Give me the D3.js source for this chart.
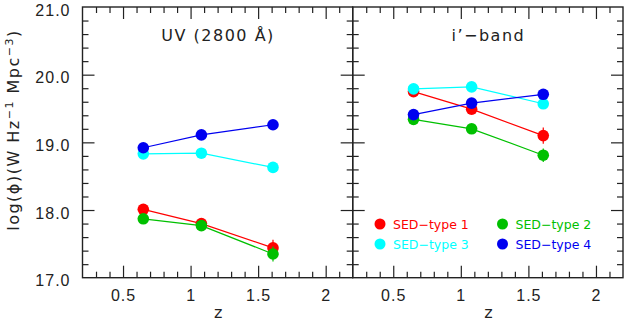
<!DOCTYPE html>
<html>
<head>
<meta charset="utf-8">
<script src="https://cdn.jsdelivr.net/npm/d3@7"></script>
<style>
  body { margin: 0; background: #fff; }
  svg { display: block; font-family: "DejaVu Sans", sans-serif; }
  .tick text { font-size: 16px; fill: #222; letter-spacing: 1px; }
  .domain { display: none; }
  .tick line { stroke: #222; stroke-width: 1.2; }
</style>
</head>
<body>
<svg id="chart" width="625" height="321"></svg>
<script>
/* Luminosity density by SED type, UV and i'-band panels */

const redshifts = [0.65, 1.08, 1.61];
const seriesNames = ["SED-type 1", "SED-type 2", "SED-type 3", "SED-type 4"];

// UV (2800 A) panel
const uvType1 = [18.01, 17.80, 17.44];
const uvType2 = [17.87, 17.77, 17.35];
const uvType3 = [18.83, 18.84, 18.63];
const uvType4 = [18.92, 19.11, 19.26];
const uvErr1 = [0.03, 0.03, 0.12];
const uvErr2 = [0.03, 0.03, 0.11];
const uvErr3 = [0.02, 0.02, 0.03];
const uvErr4 = [0.02, 0.02, 0.03];

// i'-band panel
const iType1 = [19.75, 19.49, 19.10];
const iType2 = [19.34, 19.20, 18.81];
const iType3 = [19.79, 19.82, 19.57];
const iType4 = [19.41, 19.58, 19.71];
const iErr1 = [0.03, 0.04, 0.12];
const iErr2 = [0.03, 0.04, 0.10];
const iErr3 = [0.02, 0.02, 0.03];
const iErr4 = [0.02, 0.02, 0.03];

const xTicks = [0.5, 1, 1.5, 2];
const xTickLabels = ["0.5", "1", "1.5", "2"];
const yTicks = [17, 18, 19, 20, 21];
const yTickLabels = ["17.0", "18.0", "19.0", "20.0", "21.0"];

const colors = ["#ff0000", "#00c000", "#00ffff", "#0000f0"];

const svg = d3.select("#chart");

let top_ = 7, bottom = 277.7, left = 82.5, mid = 352.7, right = 623;

let y = d3.scaleLinear().domain([17, 21]).range([bottom, top_]);

const panels = [
  { title: "UV (2800 \u00c5)", x0: left, x1: mid,
    values: [uvType1, uvType2, uvType3, uvType4],
    errs: [uvErr1, uvErr2, uvErr3, uvErr4], ylabels: true, legend: false },
  { title: "i\u2019\u2212band", x0: mid, x1: right,
    values: [iType1, iType2, iType3, iType4],
    errs: [iErr1, iErr2, iErr3, iErr4], ylabels: false, legend: true },
];

const minorX = d3.range(3, 22).map((d) => d / 10).filter((d) => !xTicks.includes(d));
const minorY = d3.range(85, 105).map((d) => d / 5).filter((d) => d > 17 && d < 21 && !yTicks.includes(d));

for (let p of panels) {
  let x = d3.scaleLinear().domain([0.2, 2.2]).range([p.x0, p.x1]);
  let g = svg.append("g");

  // minor ticks
  g.append("g").attr("transform", `translate(0,${bottom})`)
    .call(d3.axisBottom(x).tickValues(minorX).tickSize(-6).tickFormat(""));
  g.append("g").attr("transform", `translate(0,${top_})`)
    .call(d3.axisTop(x).tickValues(minorX).tickSize(-6).tickFormat(""));
  g.append("g").attr("transform", `translate(${p.x0},0)`)
    .call(d3.axisLeft(y).tickValues(minorY).tickSize(-6).tickFormat(""));
  g.append("g").attr("transform", `translate(${p.x1},0)`)
    .call(d3.axisRight(y).tickValues(minorY).tickSize(-6).tickFormat(""));

  // major ticks
  g.append("g").attr("transform", `translate(0,${bottom})`)
    .call(d3.axisBottom(x).tickValues(xTicks).tickSize(-12).tickPadding(12)
      .tickFormat((d, i) => xTickLabels[i]));
  g.append("g").attr("transform", `translate(0,${top_})`)
    .call(d3.axisTop(x).tickValues(xTicks).tickSize(-12).tickFormat(""));
  let yl = g.append("g").attr("transform", `translate(${p.x0},0)`)
    .call(d3.axisLeft(y).tickValues(yTicks.slice(1, 4)).tickSize(-12).tickFormat(""));
  g.append("g").attr("transform", `translate(${p.x1},0)`)
    .call(d3.axisRight(y).tickValues(yTicks.slice(1, 4)).tickSize(-12).tickFormat(""));

  if (p.ylabels) {
    g.append("g").attr("transform", `translate(${p.x0},0)`)
      .call(d3.axisLeft(y).tickValues(yTicks).tickSize(0).tickPadding(12)
        .tickFormat((d, i) => yTickLabels[i]))
      .selectAll("text").attr("dy", "0.5em");
  }

  // frame
  g.append("rect")
    .attr("x", p.x0).attr("y", top_)
    .attr("width", p.x1 - p.x0).attr("height", bottom - top_)
    .attr("fill", "none").attr("stroke", "#222").attr("stroke-width", 1.4);

  // title
  g.append("text")
    .attr("x", (p.x0 + p.x1) / 2 + 0.5).attr("y", 41)
    .attr("text-anchor", "middle")
    .attr("font-size", 16).attr("letter-spacing", 1.5).attr("fill", "#222")
    .text(p.title);

  // x label
  g.append("text")
    .attr("x", (p.x0 + p.x1) / 2 + 0.5).attr("y", 318)
    .attr("text-anchor", "middle")
    .attr("font-size", 16).attr("fill", "#222")
    .text("z");

  // series
  let line = d3.line().x((d) => x(d[0])).y((d) => y(d[1]));
  p.values.forEach((vals, s) => {
    let pts = redshifts.map((z, i) => [z, vals[i], p.errs[s][i]]);
    let sg = g.append("g");
    sg.append("path").datum(pts)
      .attr("fill", "none").attr("stroke", colors[s]).attr("stroke-width", 1.2)
      .attr("d", line);
    sg.selectAll("line.err").data(pts).join("line")
      .attr("class", "err")
      .attr("x1", (d) => x(d[0])).attr("x2", (d) => x(d[0]))
      .attr("y1", (d) => y(d[1] - d[2])).attr("y2", (d) => y(d[1] + d[2]))
      .attr("stroke", colors[s]).attr("stroke-width", 1.2);
    sg.selectAll("circle").data(pts).join("circle")
      .attr("cx", (d) => x(d[0])).attr("cy", (d) => y(d[1]))
      .attr("r", 5.8).attr("fill", colors[s]);
  });

  // legend
  if (p.legend) {
    const lx = [380, 502.5], ly = [224, 244];
    seriesNames.forEach((name, s) => {
      let cx = lx[s % 2], cy = ly[Math.floor(s / 2)];
      g.append("circle").attr("cx", cx).attr("cy", cy).attr("r", 5.5).attr("fill", colors[s]);
      g.append("text")
        .attr("x", cx + 13).attr("y", cy + 4.5)
        .attr("font-size", 12.5).attr("fill", colors[s])
        .text(name.replace("-", "\u2212"));
    });
  }
}

// y axis label
const yLabel = svg.append("text")
  .attr("transform", "translate(19,130) rotate(-90)")
  .attr("text-anchor", "middle")
  .attr("font-size", 16).attr("letter-spacing", 1.5).attr("fill", "#222");
yLabel.append("tspan").text("log(\u03d5)(W Hz");
yLabel.append("tspan").attr("font-size", 11).attr("dy", -6).text("\u22121");
yLabel.append("tspan").attr("dy", 6).text(" Mpc");
yLabel.append("tspan").attr("font-size", 11).attr("dy", -6).text("\u22123");
yLabel.append("tspan").attr("dy", 6).text(")");
</script>
</body>
</html>
